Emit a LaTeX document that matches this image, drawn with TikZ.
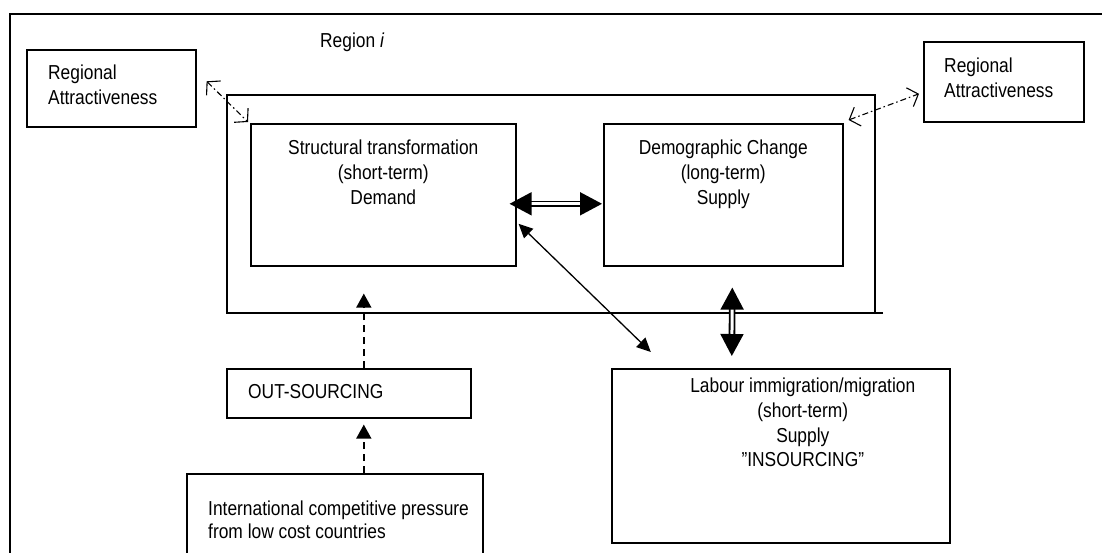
\documentclass[tikz,border=0pt]{standalone}
\usepackage{fontspec}
\setmainfont{Liberation Sans}[FakeStretch=0.86]
\usetikzlibrary{arrows.meta,calc}
\begin{document}
\begin{tikzpicture}[x=1pt,y=-1pt,
  box/.style={draw, line width=1.6pt, inner sep=0pt, anchor=north west},
  frameline/.style={line width=1.6pt},
  txt/.style={font=\fontsize{20.2}{24.7}\selectfont, inner sep=0pt},
  dbl/.style={double, double distance=3pt, line width=1.8pt,
    {Triangle[length=22pt,width=23pt]}-{Triangle[length=22pt,width=23pt]}},
  thinarrow/.style={line width=1.3pt,
    {Triangle[length=14pt,width=13pt]}-{Triangle[length=14pt,width=13pt]}},
  dsh/.style={line width=1.6pt, dash pattern=on 7pt off 5pt,
    -{Triangle[length=14pt,width=15pt]}},
  ddot/.style={line width=1.1pt, dash pattern=on 6pt off 3pt on 1.5pt off 3pt,
    {Straight Barb[length=9pt,width=20pt]}-{Straight Barb[length=9pt,width=20pt]}}
]
\useasboundingbox (0,0) rectangle (1102,552);

% outer frame
\coordinate (fbl) at (10,556);
\coordinate (ftl) at (10,14);
\coordinate (ftr) at (1106,14);
\draw[frameline] (fbl) -- (ftl) -- (ftr);

% region frame
\coordinate (rbr) at (883,313);
\coordinate (rbl) at (227,313);
\coordinate (rtl) at (227,95);
\coordinate (rtr) at (875,95);
\coordinate (rbr2) at (875,313);
\draw[frameline] (rbr) -- (rbl) -- (rtl) -- (rtr) -- (rbr2);
\node[txt, anchor=base west] (reglabel) at (320,47) {Region \textit{i}};

% boxes
\node[box, minimum width=169pt, minimum height=77pt] (rl) at (26,49) {};
\node[txt, anchor=north west, align=left] (rltxt) at (48,65) {Regional\\Attractiveness};

\node[box, minimum width=160pt, minimum height=80pt] (rr) at (923,41) {};
\node[txt, anchor=north west, align=left] (rrtxt) at (944,58) {Regional\\Attractiveness};

\node[box, minimum width=265pt, minimum height=142pt] (st) at (250,123) {};
\node[txt, anchor=north, align=center] (sttxt) at ($(st.north)+(0,17)$)
  {Structural transformation\\(short-term)\\Demand};

\node[box, minimum width=239pt, minimum height=142pt] (dc) at (603,123) {};
\node[txt, anchor=north, align=center] (dctxt) at ($(dc.north)+(0,17)$)
  {Demographic Change\\(long-term)\\Supply};

\node[box, minimum width=338pt, minimum height=174pt] (lab) at (611,368) {};
\node[txt, anchor=north, align=center] (labtxt) at ($(lab.north)+(22,10)$)
  {Labour immigration/migration\\(short-term)\\Supply\\"INSOURCING"};

\node[box, minimum width=244pt, minimum height=49pt] (out) at (226,368) {};
\node[txt, anchor=base west] (outtxt) at (248,398) {OUT-SOURCING};

\node[box, minimum width=296pt, minimum height=83pt] (intl) at (186,473) {};
\node[txt, anchor=north west, align=left, font=\fontsize{20.2}{23}\selectfont] (intltxt) at (208,501)
  {International competitive pressure\\from low cost countries};

% connectors
\draw[dbl] ([shift={(-7,9)}]st.east) -- ([shift={(-1,9)}]dc.west);
\draw[dbl] ([shift={(9,21)}]dc.south) -- ([shift={(-49,-12)}]lab.north);
\draw[thinarrow] ([shift={(2,29)}]st.east) -- ([shift={(-130,-16)}]lab.north);
\draw[dsh] ([xshift=15pt]out.north) -- ([shift={(-19.5,27)}]st.south);
\draw[dsh] ([xshift=29pt]intl.north) -- ([shift={(15,6)}]out.south);
\draw[ddot] ([shift={(10,-7)}]rl.east) -- ([shift={(-2,-1)}]st.north west);
\draw[ddot] ([shift={(5,-3)}]dc.north east) -- ([shift={(-4,12)}]rr.west);
\end{tikzpicture}
\end{document}
